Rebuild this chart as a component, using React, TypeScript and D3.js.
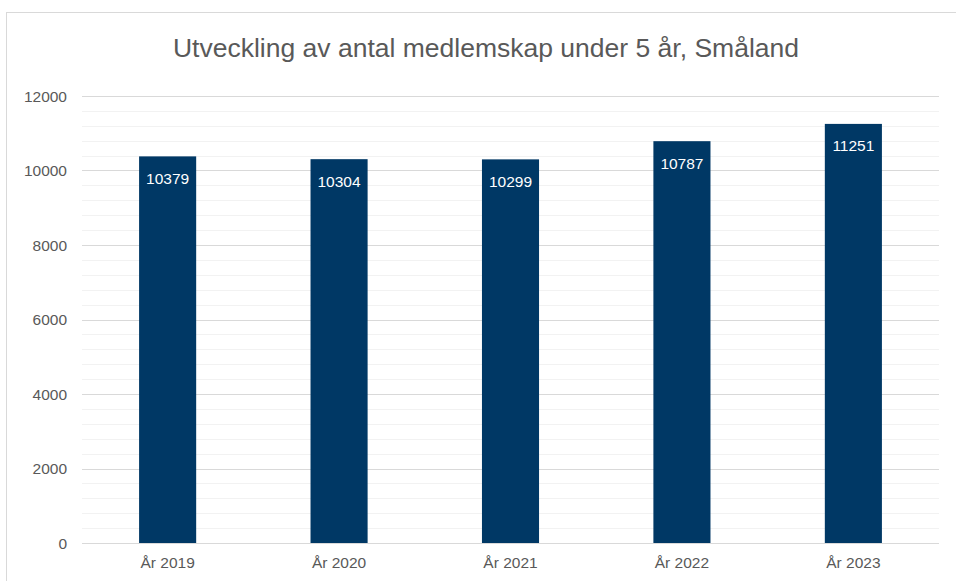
import React, { useEffect, useRef } from 'react';
import * as d3 from 'd3';

// chart data
const years = ['År 2019', 'År 2020', 'År 2021', 'År 2022', 'År 2023'];
const members = [10379, 10304, 10299, 10787, 11251];
const yTicks = [0, 2000, 4000, 6000, 8000, 10000, 12000];
const minorTicks = d3.range(0, 12001, 400);

const App = () => {
  const ref = useRef<SVGSVGElement>(null);

  useEffect(() => {
    const svg = d3.select(ref.current);
    svg.selectAll('*').remove();

    const margin = { top: 96, right: 17, bottom: 38, left: 82 };
    const width = 956 - margin.left - margin.right;
    const height = 581 - margin.top - margin.bottom;
    const font = 'Liberation Sans, Arial, sans-serif';

    // chart frame
    svg.append('rect')
      .attr('x', 6.5).attr('y', 12.5)
      .attr('width', 960).attr('height', 600)
      .attr('fill', '#fff').attr('stroke', '#d9d9d9').attr('stroke-width', 1);

    // title
    svg.append('text')
      .attr('x', 486).attr('y', 57)
      .attr('text-anchor', 'middle')
      .style('font-family', font).style('font-size', '26.5px')
      .attr('fill', '#595959')
      .text('Utveckling av antal medlemskap under 5 år, Småland');

    const g = svg.append('g').attr('transform', `translate(${margin.left},${margin.top})`);

    const y = d3.scaleLinear().domain([0, 12000]).range([height, 0]);
    const x = d3.scaleBand().domain(years).range([0, width])
      .paddingInner(0.667).paddingOuter(0.333);

    // minor gridlines
    g.append('g').selectAll('line')
      .data(minorTicks.filter(t => !yTicks.includes(t)))
      .enter().append('line')
      .attr('x1', 0).attr('x2', width)
      .attr('y1', d => Math.round(y(d)) + 0.5).attr('y2', d => Math.round(y(d)) + 0.5)
      .attr('stroke', '#f2f2f2').attr('stroke-width', 1);

    // major gridlines
    g.append('g').selectAll('line')
      .data(yTicks)
      .enter().append('line')
      .attr('x1', 0).attr('x2', width)
      .attr('y1', d => Math.round(y(d)) + 0.5).attr('y2', d => Math.round(y(d)) + 0.5)
      .attr('stroke', '#d9d9d9').attr('stroke-width', 1);

    // y labels
    g.append('g').selectAll('text')
      .data(yTicks)
      .enter().append('text')
      .attr('x', -15).attr('y', d => y(d) + 5.5)
      .attr('text-anchor', 'end')
      .style('font-family', font).style('font-size', '15.5px')
      .attr('fill', '#595959')
      .text(d => d);

    // bars
    g.append('g').selectAll('rect')
      .data(members)
      .enter().append('rect')
      .attr('x', (d, i) => x(years[i])!)
      .attr('y', d => y(d))
      .attr('width', x.bandwidth())
      .attr('height', d => height - y(d))
      .attr('fill', '#003865');

    // data labels
    g.append('g').selectAll('text')
      .data(members)
      .enter().append('text')
      .attr('x', (d, i) => x(years[i])! + x.bandwidth() / 2)
      .attr('y', d => y(d) + 27.5)
      .attr('text-anchor', 'middle')
      .style('font-family', font).style('font-size', '15.5px')
      .attr('fill', '#fff')
      .text(d => d);

    // x labels
    g.append('g').selectAll('text')
      .data(years)
      .enter().append('text')
      .attr('x', d => x(d)! + x.bandwidth() / 2)
      .attr('y', height + 24.5)
      .attr('text-anchor', 'middle')
      .style('font-family', font).style('font-size', '15.5px')
      .attr('fill', '#595959')
      .text(d => d);
  }, []);

  return (
    <svg ref={ref} width={956} height={581}
      style={{ position: 'absolute', left: 0, top: 0, background: '#fff' }} />
  );
};

export default App;
